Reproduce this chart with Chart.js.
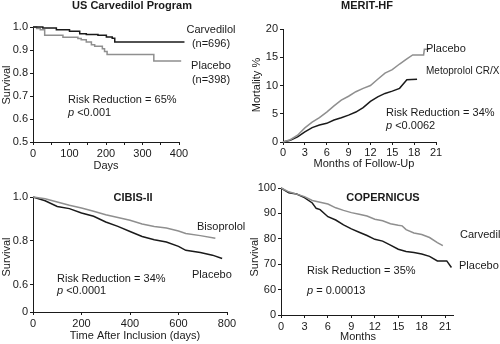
<!DOCTYPE html>
<html>
<head>
<meta charset="utf-8">
<script src="https://cdn.jsdelivr.net/npm/chart.js@4.4.1/dist/chart.umd.min.js"></script>
<style>
  body { margin: 0; background: #fff; }
  #wrap { position: relative; width: 500px; height: 344px; overflow: hidden; }
  canvas { position: absolute; }
</style>
</head>
<body>
<div id="wrap">
  <canvas id="us" width="250" height="172" style="left:0;top:0"></canvas>
  <canvas id="merit" width="250" height="172" style="left:250px;top:0"></canvas>
  <canvas id="cibis" width="250" height="172" style="left:0;top:172px"></canvas>
  <canvas id="copernicus" width="250" height="172" style="left:250px;top:172px"></canvas>
</div>
<script>
// US Carvedilol Program - survival by day (step curves)
const usCarvDays = [0, 27, 64, 100, 128, 146, 178, 201, 217, 224, 415];
const usCarvSurv = [1.0, 0.996, 0.988, 0.981, 0.971, 0.967, 0.964, 0.957, 0.951, 0.935, 0.935];
const usPlacDays = [0, 10, 20, 32, 82, 123, 132, 146, 160, 169, 190, 196, 203, 331, 406];
const usPlacSurv = [1.0, 0.993, 0.988, 0.964, 0.955, 0.95, 0.945, 0.935, 0.923, 0.916, 0.905, 0.893, 0.88, 0.852, 0.852];

// MERIT-HF - cumulative mortality % by month
const meritPlacMonths = [0, 1, 2, 3, 4, 5, 6, 7, 8, 9, 10, 11, 12, 13, 14, 15, 16, 17, 17.8, 19.3, 19.4, 20.1];
const meritPlacMort   = [0, 0.4, 1.2, 2.5, 3.5, 4.3, 5.3, 6.4, 7.4, 8.1, 8.9, 9.5, 10.0, 11.1, 12.2, 12.8, 13.8, 14.7, 15.4, 15.4, 16.4, 16.4];
const meritMetoMonths = [0, 1, 2, 3, 4, 5, 6, 7, 8, 9, 10, 11, 12, 13, 14, 15, 16, 17, 18.4];
const meritMetoMort   = [0, 0.3, 0.9, 1.8, 2.55, 3.0, 3.3, 3.9, 4.3, 4.75, 5.3, 6.1, 7.2, 8.0, 8.6, 9.0, 9.5, 11.0, 11.1];

// CIBIS-II - survival by days after inclusion
const cibisBisoDays = [0, 50, 100, 150, 200, 250, 300, 350, 400, 450, 500, 550, 600, 630, 690, 752];
const cibisBisoSurv = [1.0, 0.992, 0.977, 0.962, 0.95, 0.935, 0.919, 0.907, 0.894, 0.877, 0.866, 0.859, 0.845, 0.834, 0.824, 0.812];
const cibisPlacDays = [0, 50, 100, 150, 200, 250, 300, 350, 400, 450, 500, 550, 600, 630, 690, 740, 780];
const cibisPlacSurv = [1.0, 0.983, 0.957, 0.947, 0.927, 0.912, 0.886, 0.866, 0.843, 0.82, 0.805, 0.795, 0.775, 0.757, 0.747, 0.735, 0.72];

// COPERNICUS - survival % by month
const copCarvMonths = [0, 1, 2, 3, 4, 5, 6, 7, 8, 9, 10, 11, 12, 13, 14, 15, 15.5, 16, 17, 18, 19, 20, 20.7];
const copCarvSurv   = [100, 98.5, 97.6, 96.6, 95.1, 94.4, 93.7, 92.2, 91.2, 90.3, 89.7, 89.0, 87.7, 87.1, 85.9, 85.3, 85.1, 83.6, 82.3, 81.7, 80.5, 78.5, 77.3];
const copPlacMonths = [0, 1, 2, 3, 4, 4.5, 5, 6, 7, 8, 9, 10, 11, 12, 13, 14, 15, 16, 17, 18, 19, 20, 21.2, 21.8];
const copPlacSurv   = [100, 98.1, 97.6, 96.2, 94.1, 92, 91.5, 88.7, 87.4, 85.5, 83.9, 82.6, 81.3, 79.8, 79.1, 77.5, 75.9, 75.0, 74.6, 74.0, 73.1, 71.3, 71.3, 68.7];

// broken y axes: the lowest tick stands in for zero
const cibisYTicks  = [0.476, 0.6, 0.8, 1.0];
const cibisYLabels = ['0', '0.6', '0.8', '1.0'];
const copYTicks    = [50, 60, 70, 80, 90, 100];
const copYLabels   = ['0', '60', '70', '80', '90', '100'];

const DARK = '#1a1a1a';
const GREY = '#8f8f8f';
const FONT = '"Liberation Sans", Arial, sans-serif';

Chart.defaults.font.family = FONT;
Chart.defaults.font.size = 11;
Chart.defaults.color = DARK;

function points(xs, ys) {
    return xs.map((x, i) => ({ x: x, y: ys[i] }));
}

function line(xs, ys, color, stepped) {
    return {
        data: points(xs, ys),
        borderColor: color,
        borderWidth: 1.5,
        pointRadius: 0,
        tension: 0,
        stepped: stepped || false,
        clip: false
    };
}

// text drawn on top of each panel (titles, labels, axis names)
function notes(items) {
    return {
        id: 'notes',
        afterDraw(chart) {
            const ctx = chart.ctx;
            ctx.save();
            ctx.fillStyle = DARK;
            ctx.textBaseline = 'middle';
            items.forEach(n => {
                const size = (n.size || 11) + 'px ';
                ctx.save();
                ctx.translate(n.x, n.y);
                if (n.rot) ctx.rotate(-Math.PI / 2);
                ctx.textAlign = n.align || 'left';
                if (n.p) {
                    // italic "p" followed by the value
                    ctx.font = 'italic ' + size + FONT;
                    ctx.textAlign = 'left';
                    ctx.fillText('p', 0, 0);
                    const w = ctx.measureText('p').width;
                    ctx.font = size + FONT;
                    ctx.fillText(n.t, w, 0);
                } else {
                    ctx.font = (n.bold ? 'bold ' : '') + size + FONT;
                    ctx.fillText(n.t, 0, 0);
                }
                ctx.restore();
            });
            ctx.restore();
        }
    };
}

function axisStyle() {
    return {
        grid: { display: true, drawOnChartArea: false, drawTicks: true, tickLength: 3, color: DARK, lineWidth: 1 },
        border: { display: true, color: DARK, width: 1 }
    };
}

function makeChart(id, datasets, area, xOpts, yOpts, items) {
    const x = Object.assign({ type: 'linear', position: 'bottom' }, axisStyle(), xOpts);
    x.ticks = Object.assign({ padding: 2, maxRotation: 0, autoSkip: false, includeBounds: false }, xOpts.ticks);
    x.afterFit = s => { s.height = 172 - area.bottom; };
    const y = Object.assign({ type: 'linear', position: 'left' }, axisStyle(), yOpts);
    y.ticks = Object.assign({ padding: 2, autoSkip: false, includeBounds: false }, yOpts.ticks);
    y.afterFit = s => { s.width = area.left; };

    return new Chart(document.getElementById(id), {
        type: 'line',
        data: { datasets: datasets },
        options: {
            responsive: false,
            animation: false,
            layout: { padding: { left: 0, top: area.top, right: 250 - area.right, bottom: 0 } },
            plugins: { legend: { display: false }, tooltip: { enabled: false } },
            scales: { x: x, y: y }
        },
        plugins: [notes(items)]
    });
}

// US Carvedilol Program
makeChart('us',
    [line(usCarvDays, usCarvSurv, DARK, true), line(usPlacDays, usPlacSurv, GREY, true)],
    { left: 33, right: 179, top: 27, bottom: 142 },
    { min: 0, max: 400, ticks: { stepSize: 50, callback: v => (v % 100 === 0 ? v : '') } },
    { min: 0.5, max: 1.0, ticks: { stepSize: 0.1, callback: v => Number(v).toFixed(1) } },
    [
        { t: 'US Carvedilol Program', x: 132, y: 6, align: 'center', bold: true },
        { t: 'Carvedilol', x: 211, y: 30, align: 'center' },
        { t: '(n=696)', x: 211, y: 44, align: 'center' },
        { t: 'Placebo', x: 211, y: 66, align: 'center' },
        { t: '(n=398)', x: 211, y: 80, align: 'center' },
        { t: 'Risk Reduction = 65%', x: 68, y: 100 },
        { t: ' <0.001', x: 68, y: 113, p: true },
        { t: 'Survival', x: 7, y: 85, align: 'center', rot: true },
        { t: 'Days', x: 106, y: 166, align: 'center' }
    ]);

// MERIT-HF
makeChart('merit',
    [line(meritPlacMonths, meritPlacMort, GREY), line(meritMetoMonths, meritMetoMort, DARK)],
    { left: 33, right: 186, top: 29, bottom: 142 },
    { min: 0, max: 21, ticks: { stepSize: 3, padding: 1 } },
    { min: 0, max: 20, ticks: { stepSize: 5 } },
    [
        { t: 'MERIT-HF', x: 117, y: 6, align: 'center', bold: true },
        { t: 'Placebo', x: 176, y: 49 },
        { t: 'Metoprolol CR/XL', x: 176, y: 71, size: 10 },
        { t: 'Risk Reduction = 34%', x: 136, y: 113 },
        { t: ' <0.0062', x: 136, y: 126, p: true },
        { t: 'Mortality %', x: 7, y: 85, align: 'center', rot: true },
        { t: 'Months of Follow-Up', x: 114, y: 164, align: 'center' }
    ]);

// CIBIS-II
makeChart('cibis',
    [line(cibisBisoDays, cibisBisoSurv, GREY), line(cibisPlacDays, cibisPlacSurv, DARK)],
    { left: 33, right: 227, top: 25, bottom: 140 },
    { min: 0, max: 800, ticks: { stepSize: 200 } },
    {
        min: cibisYTicks[0], max: 1.0,
        afterBuildTicks: s => { s.ticks = cibisYTicks.map(v => ({ value: v })); },
        ticks: { callback: (v, i) => cibisYLabels[i] }
    },
    [
        { t: 'CIBIS-II', x: 133, y: 26, align: 'center', bold: true },
        { t: 'Bisoprolol', x: 197, y: 55 },
        { t: 'Placebo', x: 192, y: 103 },
        { t: 'Risk Reduction = 34%', x: 57, y: 107 },
        { t: ' <0.0001', x: 57, y: 119, p: true },
        { t: 'Survival', x: 7, y: 85, align: 'center', rot: true },
        { t: 'Time After Inclusion (days)', x: 135, y: 164, align: 'center' }
    ]);

// COPERNICUS
makeChart('copernicus',
    [line(copCarvMonths, copCarvSurv, GREY), line(copPlacMonths, copPlacSurv, DARK)],
    { left: 31, right: 203, top: 16, bottom: 143 },
    { min: 0, max: 22, ticks: { stepSize: 3 } },
    {
        min: 50, max: 100,
        afterBuildTicks: s => { s.ticks = copYTicks.map(v => ({ value: v })); },
        ticks: { callback: (v, i) => copYLabels[i] }
    },
    [
        { t: 'COPERNICUS', x: 133, y: 26, align: 'center', bold: true },
        { t: 'Carvedilol', x: 210, y: 63 },
        { t: 'Placebo', x: 209, y: 94 },
        { t: 'Risk Reduction = 35%', x: 57, y: 99 },
        { t: ' = 0.00013', x: 57, y: 119, p: true },
        { t: 'Survival', x: 5, y: 85, align: 'center', rot: true },
        { t: 'Months', x: 108, y: 165, align: 'center' }
    ]);
</script>
</body>
</html>
